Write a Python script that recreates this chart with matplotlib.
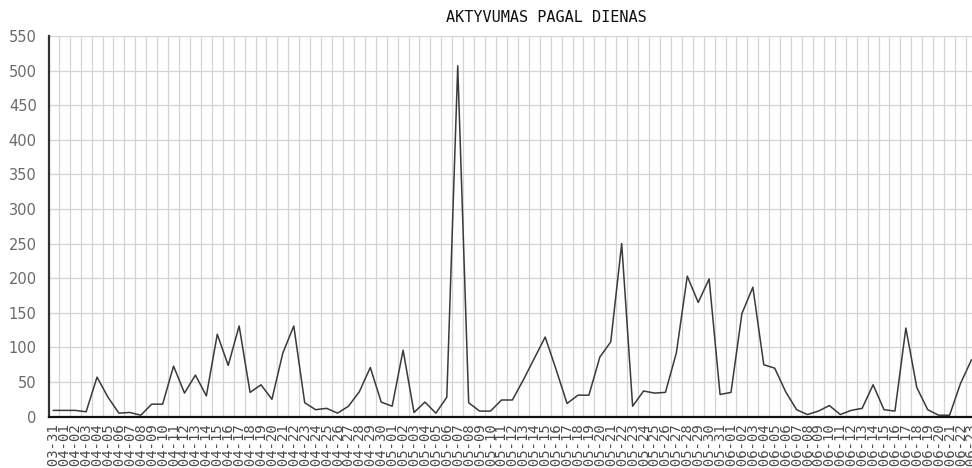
import numpy as np
import pandas as pd
import matplotlib
matplotlib.use("Agg")
import matplotlib.pyplot as plt
from matplotlib.ticker import MultipleLocator, FixedLocator

# daily activity (first day 03-31)
start_day = "2009-03-31"
activity = [
    9, 9, 9, 7, 57, 28, 5, 6, 2, 18,
    18, 73, 34, 60, 30, 119, 74, 131, 35, 46,
    25, 92, 131, 20, 10, 12, 5, 15, 36, 71,
    21, 15, 96, 6, 21, 5, 28, 507, 20, 8,
    8, 24, 24, 53, 84, 115, 68, 19, 31, 31,
    86, 108, 250, 15, 37, 34, 35, 92, 203, 165,
    199, 32, 35, 149, 187, 75, 70, 36, 10, 3,
    8, 16, 3, 9, 12, 46, 10, 8, 128, 42,
    10, 2, 2, 48, 82,
]
day_labels = [d.strftime("%Y-%m-%d") for d in pd.date_range(start_day, periods=len(activity))]
title = "AKTYVUMAS PAGAL DIENAS"

fig = plt.figure(figsize=(9.72, 4.68), dpi=100)
ax = fig.add_axes([0.0507, 0.1098, 0.9493, 0.8132])

x = np.arange(len(activity))
ax.plot(x, activity, color="#3a3a3a", lw=1.1, zorder=3)

ax.set_xlim(-0.37, 84.05)
ax.set_ylim(0, 550)

# grid: horizontal every 50, vertical between days
ax.yaxis.set_major_locator(MultipleLocator(50))
ax.xaxis.set_major_locator(FixedLocator(x))
ax.xaxis.set_minor_locator(FixedLocator(x + 0.5))
ax.grid(axis="y", which="major", color="#d4d4d4", lw=0.9)
ax.grid(axis="x", which="minor", color="#d4d4d4", lw=0.9)
ax.set_axisbelow(True)

# labels overlap into a dense band, as in the original
ax.set_xticklabels(day_labels, rotation=90, fontsize=10, family="DejaVu Sans Mono",
                   color="#4a4a4a", va="top", ha="center")
ax.tick_params(axis="x", which="both", length=0, pad=5)
ax.tick_params(axis="y", length=0, pad=9, labelsize=10.5, labelcolor="#6a6a6a")

for side in ["top", "right"]:
    ax.spines[side].set_visible(False)
ax.spines["left"].set_color("#333333")
ax.spines["left"].set_linewidth(1.6)
ax.spines["bottom"].set_color("#111111")
ax.spines["bottom"].set_linewidth(1.6)

fig.text(0.562, 0.962, title, ha="center", va="center", fontsize=11,
         family="DejaVu Sans Mono", color="#111111")

fig.savefig("out.png", dpi=100)
